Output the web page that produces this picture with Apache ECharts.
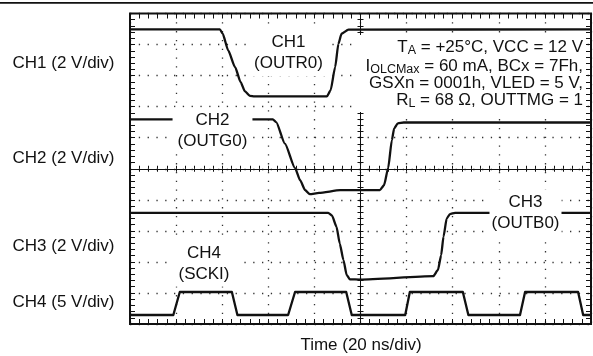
<!DOCTYPE html>
<html>
<head>
<meta charset="utf-8">
<script src="https://cdn.jsdelivr.net/npm/echarts@6/dist/echarts.min.js"></script>
<style>
  html, body { margin: 0; padding: 0; background: #fff; }
  #chart { width: 593px; height: 356px; }
</style>
</head>
<body>
<div id="chart"></div>
<script>
// Scope capture: time in ns (20 ns/div, trigger at 0), vertical in screen divisions from centre.
const timeRange = [-100, 100];
const divRange = [-5, 5];

// CH1 (OUTR0) trace
const ch1 = [
  [-100, 4.49], [-61, 4.49], [-59.8, 4.35], [-57.4, 3.81], [-54.4, 3.27], [-52, 2.79],
  [-50.2, 2.5], [-48, 2.35], [-46, 2.33], [-14.6, 2.33], [-13, 2.52], [-11, 3.27],
  [-9.6, 4.02], [-8.2, 4.35], [-5.2, 4.48], [100, 4.49]
];
// CH2 (OUTG0) trace
const ch2 = [
  [-100, 1.59], [-38, 1.59], [-36.6, 1.5], [-32.8, 0.81], [-28.4, 0.02], [-26.2, -0.37],
  [-24, -0.69], [-22, -0.82], [-18, -0.78], [-8.8, -0.69], [8.4, -0.69], [10.2, -0.53],
  [12, 0.02], [13.6, 0.92], [14.6, 1.3], [16.2, 1.46], [18.8, 1.49], [100, 1.49]
];
// CH3 (OUTB0) trace
const ch3 = [
  [-100, -1.42], [-14, -1.42], [-12.4, -1.5], [-10.4, -1.87], [-9, -2.41], [-7.4, -2.94],
  [-6, -3.42], [-4.6, -3.56], [-0.2, -3.57], [31.6, -3.46], [33.6, -3.26], [35, -2.78],
  [36, -2.19], [37.4, -1.6], [38.8, -1.46], [41, -1.42], [100, -1.42]
];
// CH4 (SCKI) clock trace
const ch4 = [
  [-100, -4.71], [-81.2, -4.71], [-78.4, -3.97], [-55.8, -3.97], [-53.4, -4.71],
  [-31.4, -4.71], [-28.4, -3.97], [-6.2, -3.97], [-3.8, -4.71], [19.4, -4.71],
  [21.4, -3.97], [44.4, -3.97], [46.8, -4.71], [69.2, -4.71], [71.4, -3.97],
  [94.4, -3.97], [96.6, -4.71], [100, -4.71]
];

const channelScales = ['CH1 (2 V/div)', 'CH2 (2 V/div)', 'CH3 (2 V/div)', 'CH4 (5 V/div)'];
const traceNames = [['CH1', '(OUTR0)'], ['CH2', '(OUTG0)'], ['CH3', '(OUTB0)'], ['CH4', '(SCKI)']];
const conditions = [
  'T{sub|A} = +25°C, VCC = 12 V',
  'I{sub|OLCMax} = 60 mA, BCx = 7Fh,',
  'GSXn = 0001h, VLED = 5 V,',
  'R{sub|L} = 68 Ω, OUTTMG = 1'
];
const timeTitle = 'Time (20 ns/div)';

const FONT = '"Liberation Sans", Arial, Helvetica, sans-serif';
const INK = '#111';
const TRACE_W = 2.3;

function frameAxis(dim, position, isGridAxis) {
  const range = dim === 'x' ? timeRange : divRange;
  return {
    type: 'value', position: position, min: range[0], max: range[1],
    interval: dim === 'x' ? 20 : 1,
    axisLine: { show: false, onZero: false },
    axisTick: { show: true, inside: true, length: 5, lineStyle: { color: INK, width: 1 } },
    minorTick: { show: true, splitNumber: 5, length: 5, lineStyle: { color: INK, width: 1 } },
    axisLabel: { show: false },
    splitLine: { show: isGridAxis, lineStyle: { color: '#333', width: 1.3, type: [1.3, 7.5] } },
    minorSplitLine: { show: false }
  };
}
function centreAxis(dim, position) {
  const range = dim === 'x' ? timeRange : divRange;
  return {
    type: 'value', position: position, min: range[0], max: range[1],
    interval: dim === 'x' ? 20 : 1,
    axisLine: { show: true, onZero: true, onZeroAxisIndex: 0, lineStyle: { color: INK, width: 1 } },
    axisTick: { show: true, inside: true, length: 3, lineStyle: { color: INK, width: 1 } },
    minorTick: { show: true, splitNumber: 5, length: 3, lineStyle: { color: INK, width: 1 } },
    axisLabel: { show: false },
    splitLine: { show: false }
  };
}

function trace(data, smooth) {
  return {
    type: 'line', data: data, xAxisIndex: 0, yAxisIndex: 0,
    showSymbol: false, symbol: 'none', smooth: smooth, smoothMonotone: 'x',
    lineStyle: { color: INK, width: TRACE_W, join: 'round' },
    z: 3, silent: true, animation: false
  };
}

function label(lines, x, y, pad) {
  return {
    type: 'text', x: x, y: y, z: 100,
    style: {
      text: lines.join('\n'), fill: INK, font: '17px ' + FONT,
      align: 'center', verticalAlign: 'middle', lineHeight: 21,
      backgroundColor: '#fff', padding: pad
    }
  };
}

const graphics = [
  // rule across the top
  { type: 'rect', shape: { x: 0, y: 2, width: 593, height: 1.7 }, style: { fill: INK }, z: 100 },
  // white panel behind the test conditions
  { type: 'rect', shape: { x: 352, y: 35, width: 233, height: 77 }, style: { fill: '#fff' }, z: 99 }
];
const scaleY = [63.5, 158.5, 246, 302.5];
channelScales.forEach((t, i) => graphics.push({
  type: 'text', x: 12.5, y: scaleY[i], z: 100,
  style: { text: t, fill: INK, font: '17px ' + FONT, align: 'left', verticalAlign: 'middle' }
}));
graphics.push(label(traceNames[0], 288.5, 53, [2, 4]));
graphics.push(label(traceNames[1], 212.5, 130.5, [2, 5]));
graphics.push(label(traceNames[2], 525.5, 212.5, [2, 2]));
graphics.push(label(traceNames[3], 204, 263.5, [2, 8]));
const condY = [47.5, 66.5, 83.5, 100];
conditions.forEach((t, i) => graphics.push({
  type: 'text', x: 583, y: condY[i], z: 101,
  style: {
    text: t, fill: INK, font: '17px ' + FONT, align: 'right', verticalAlign: 'middle',
    lineHeight: 20,
    rich: { sub: { fontSize: 12.5, fontFamily: FONT, fill: INK, lineHeight: 11, verticalAlign: 'bottom' } }
  }
}));
graphics.push({
  type: 'text', x: 361, y: 345, z: 100,
  style: { text: timeTitle, fill: INK, font: '17px ' + FONT, align: 'center', verticalAlign: 'middle' }
});

const chart = echarts.init(document.getElementById('chart'), null, { renderer: 'canvas' });
chart.setOption({
  animation: false,
  backgroundColor: '#fff',
  grid: {
    left: 130, top: 13.5, width: 461, height: 310.5,
    show: true, borderColor: INK, borderWidth: 2, backgroundColor: 'transparent', z: 5
  },
  xAxis: [
    frameAxis('x', 'bottom', true),
    frameAxis('x', 'top', false),
    centreAxis('x', 'bottom'),
    centreAxis('x', 'top')
  ],
  yAxis: [
    frameAxis('y', 'left', true),
    frameAxis('y', 'right', false),
    centreAxis('y', 'left'),
    centreAxis('y', 'right')
  ],
  series: [
    trace(ch1, 0.2),
    trace(ch2, 0.2),
    trace(ch3, 0.2),
    trace(ch4, false)
  ],
  graphic: graphics
});
</script>
</body>
</html>
